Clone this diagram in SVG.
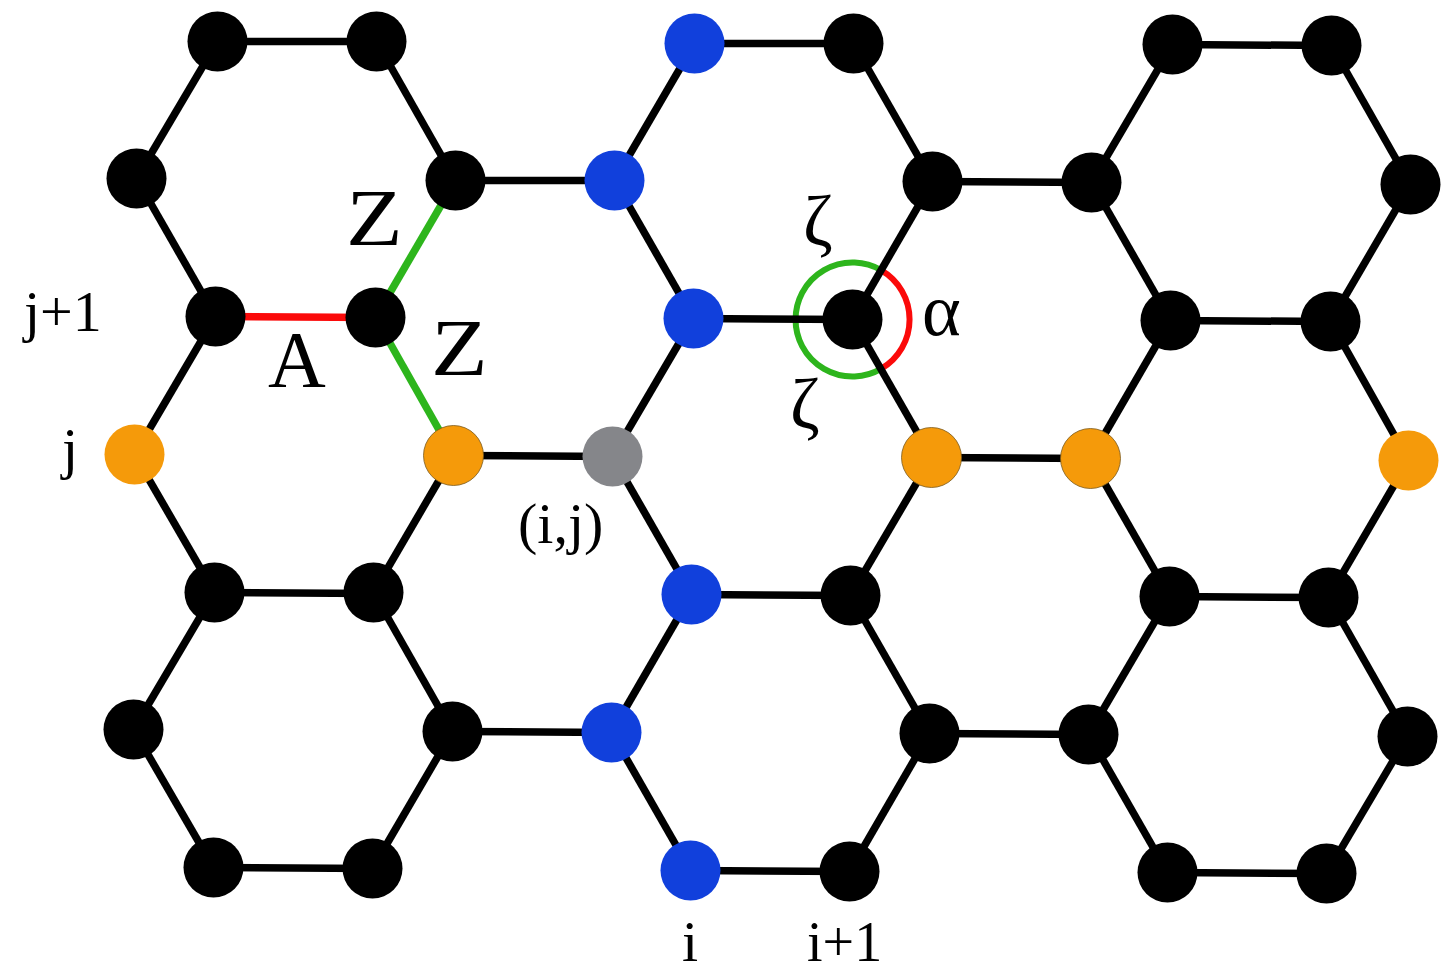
<svg xmlns="http://www.w3.org/2000/svg" width="1454" height="980" viewBox="0 0 1454 980">
<style>
.b{fill:#000}.o{fill:#f59a0a}.e{stroke:#7a5a20;stroke-width:.8}.u{fill:#1140dc}.g{fill:#85868a}
#connectors line{stroke:#000;stroke-width:7.5}
#connectors line.red{stroke:#fb0a0a}
#connectors line.green{stroke:#2db51c}
.arc{fill:none;stroke-width:6}
text{font-family:"Liberation Serif","Times New Roman",serif;fill:#000}
</style>
<rect width="1454" height="980" fill="#fff"/>
<g id="connectors" transform="translate(.5 .5)">
<path class="arc" d="M880.5 269.6A57 57 0 0 1 880.5 368.4" stroke="#fb0a0a"/>
<path class="arc" d="M880.5 368.4A57 57 0 1 1 880.5 269.6" stroke="#2db51c"/>
<line x1="217" y1="41" x2="376" y2="41"/><line x1="694" y1="43" x2="853" y2="43"/><line x1="1172" y1="44" x2="1331" y2="45"/>
<line x1="455" y1="180" x2="614" y2="180"/><line x1="932" y1="181" x2="1091" y2="182"/>
<line class="red" x1="215" y1="316" x2="375" y2="317"/><line x1="693" y1="318" x2="852" y2="319"/><line x1="1170" y1="320" x2="1330" y2="321"/>
<line x1="453" y1="455" x2="612" y2="456"/><line x1="931" y1="457" x2="1090" y2="458"/>
<line x1="214" y1="592" x2="373" y2="593"/><line x1="691" y1="594" x2="850" y2="595"/><line x1="1169" y1="596" x2="1328" y2="597"/>
<line x1="452" y1="731" x2="611" y2="732"/><line x1="929" y1="733" x2="1088" y2="734"/>
<line x1="213" y1="867" x2="372" y2="868"/><line x1="690" y1="870" x2="849" y2="871"/><line x1="1167" y1="872" x2="1326" y2="873"/>
<line x1="217" y1="41" x2="136" y2="178"/><line x1="376" y1="41" x2="455" y2="180"/><line x1="694" y1="43" x2="614" y2="180"/><line x1="853" y1="43" x2="932" y2="181"/><line x1="1172" y1="44" x2="1091" y2="182"/><line x1="1331" y1="45" x2="1410" y2="184"/>
<line x1="136" y1="178" x2="215" y2="316"/><line class="green" x1="455" y1="180" x2="375" y2="317"/><line x1="614" y1="180" x2="693" y2="318"/><line x1="932" y1="181" x2="852" y2="319"/><line x1="1091" y1="182" x2="1170" y2="320"/><line x1="1410" y1="184" x2="1330" y2="321"/>
<line x1="215" y1="316" x2="134" y2="454"/><line class="green" x1="375" y1="317" x2="453" y2="455"/><line x1="693" y1="318" x2="612" y2="456"/><line x1="852" y1="319" x2="931" y2="457"/><line x1="1170" y1="320" x2="1090" y2="458"/><line x1="1330" y1="321" x2="1408" y2="460"/>
<line x1="134" y1="454" x2="214" y2="592"/><line x1="453" y1="455" x2="373" y2="592"/><line x1="612" y1="456" x2="691" y2="594"/><line x1="931" y1="457" x2="850" y2="595"/><line x1="1090" y1="458" x2="1169" y2="596"/><line x1="1408" y1="460" x2="1328" y2="597"/>
<line x1="214" y1="592" x2="133" y2="729"/><line x1="373" y1="592" x2="452" y2="731"/><line x1="691" y1="594" x2="611" y2="732"/><line x1="850" y1="595" x2="929" y2="733"/><line x1="1169" y1="596" x2="1088" y2="734"/><line x1="1328" y1="597" x2="1407" y2="736"/>
<line x1="133" y1="729" x2="213" y2="867"/><line x1="452" y1="731" x2="372" y2="868"/><line x1="611" y1="732" x2="690" y2="870"/><line x1="929" y1="733" x2="849" y2="871"/><line x1="1088" y1="734" x2="1167" y2="872"/><line x1="1407" y1="736" x2="1326" y2="873"/>
</g>
<g id="nodes" transform="translate(.5 .5)">
<circle id="n1" class="b" cx="217" cy="41" r="30"/><circle id="n2" class="b" cx="376" cy="41" r="30"/><circle id="n3" class="u" cx="694" cy="43" r="30"/><circle id="n4" class="b" cx="853" cy="43" r="30"/><circle id="n5" class="b" cx="1172" cy="44" r="30"/><circle id="n6" class="b" cx="1331" cy="45" r="30"/>
<circle id="n7" class="b" cx="136" cy="178" r="30"/><circle id="n8" class="b" cx="455" cy="180" r="30"/><circle id="n9" class="u" cx="614" cy="180" r="30"/><circle id="n10" class="b" cx="932" cy="181" r="30"/><circle id="n11" class="b" cx="1091" cy="182" r="30"/><circle id="n12" class="b" cx="1410" cy="184" r="30"/>
<circle id="n13" class="b" cx="215" cy="316" r="30"/><circle id="n14" class="b" cx="375" cy="317" r="30"/><circle id="n15" class="u" cx="693" cy="318" r="30"/><circle id="n16" class="b" cx="852" cy="319" r="30"/><circle id="n17" class="b" cx="1170" cy="320" r="30"/><circle id="n18" class="b" cx="1330" cy="321" r="30"/>
<circle id="n19" class="o" cx="134" cy="454" r="30"/><circle id="n20" class="o e" cx="453" cy="455" r="30"/><circle id="n21" class="g" cx="612" cy="456" r="30"/><circle id="n22" class="o e" cx="931" cy="457" r="30"/><circle id="n23" class="o e" cx="1090" cy="458" r="30"/><circle id="n24" class="o" cx="1408" cy="460" r="30"/>
<circle id="n25" class="b" cx="214" cy="592" r="30"/><circle id="n26" class="b" cx="373" cy="592" r="30"/><circle id="n27" class="u" cx="691" cy="594" r="30"/><circle id="n28" class="b" cx="850" cy="595" r="30"/><circle id="n29" class="b" cx="1169" cy="596" r="30"/><circle id="n30" class="b" cx="1328" cy="597" r="30"/>
<circle id="n31" class="b" cx="133" cy="729" r="30"/><circle id="n32" class="b" cx="452" cy="731" r="30"/><circle id="n33" class="u" cx="611" cy="732" r="30"/><circle id="n34" class="b" cx="929" cy="733" r="30"/><circle id="n35" class="b" cx="1088" cy="734" r="30"/><circle id="n36" class="b" cx="1407" cy="736" r="30"/>
<circle id="n37" class="b" cx="213" cy="867" r="30"/><circle id="n38" class="b" cx="372" cy="868" r="30"/><circle id="n39" class="u" cx="690" cy="870" r="30"/><circle id="n40" class="b" cx="849" cy="871" r="30"/><circle id="n41" class="b" cx="1167" cy="872" r="30"/><circle id="n42" class="b" cx="1326" cy="873" r="30"/>
</g>
<g id="labels">
<text transform="translate(346 245) scale(1.16 1)" font-size="80">Z</text>
<text transform="translate(431 375) scale(1.16 1)" font-size="80">Z</text>
<text x="268" y="387" font-size="80">A</text>
<text x="24" y="331" font-size="58">j+1</text>
<text x="62" y="468" font-size="58">j</text>
<text x="518" y="543" font-size="58">(i,j)</text>
<text x="682" y="961" font-size="58">i</text>
<text x="807" y="961" font-size="56">i+1</text>
<text x="922" y="335" font-size="74">α</text>
<text x="803" y="245" font-size="72">ζ</text>
<text x="790" y="428" font-size="72">ζ</text>
</g>
</svg>
